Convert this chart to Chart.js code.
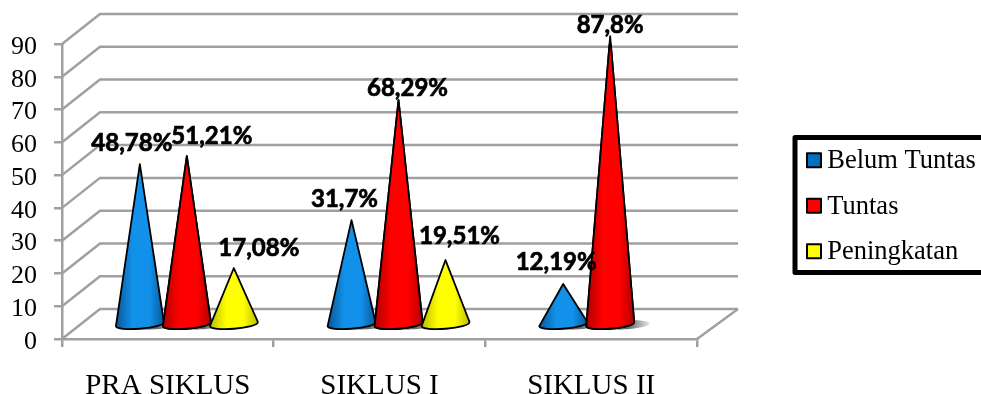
<!DOCTYPE html>
<html>
<head>
<meta charset="utf-8">
<title>Ketuntasan belajar</title>
<script src="https://cdn.jsdelivr.net/npm/chart.js@4"></script>
<style>
  html, body { margin: 0; padding: 0; background: #fff; }
  canvas { display: block; }
</style>
</head>
<body>
<canvas id="chart" width="981" height="394"></canvas>
<script>
const categories = ["PRA SIKLUS", "SIKLUS I", "SIKLUS II"];
const belumTuntas = [48.78, 31.7, 12.19];
const tuntas = [51.21, 68.29, 87.8];
const peningkatan = [17.08, 19.51, null];

const gridColor = "#a0a0a0";
const depthX = 38, depthY = 30;

// edge / middle colours of the cone shading
const coneShades = {
    "#0070c0": ["#0a5799", "#1191ea"],
    "#ff0000": ["#b00000", "#ff0000"],
    "#ffff00": ["#bdbd00", "#ffff00"]
};

// cone drawn where a bar would be, pushed back to the middle of the floor
class ConeElement extends Chart.BarElement {
    draw(ctx) {
        const halfW = this.width / 2 + 0.5;
        const cx = this.x + depthX / 2;
        const apexY = this.y - depthY / 2;
        const baseY = this.base - 13.5;
        const shade = coneShades[this.options.backgroundColor];

        ctx.save();
        const fill = ctx.createLinearGradient(cx - halfW, 0, cx + halfW, 0);
        fill.addColorStop(0, shade[0]);
        fill.addColorStop(0.35, shade[1]);
        fill.addColorStop(0.7, shade[1]);
        fill.addColorStop(1, shade[0]);

        ctx.beginPath();
        ctx.moveTo(cx, apexY);
        ctx.lineTo(cx + halfW, baseY - 2.5);
        ctx.ellipse(cx, baseY, halfW, 4.5, -0.08, 0, Math.PI);
        ctx.closePath();
        ctx.fillStyle = fill;
        ctx.fill();
        ctx.lineJoin = "round";
        ctx.lineWidth = 1.8;
        ctx.strokeStyle = "#000";
        ctx.stroke();
        ctx.restore();
    }
}
ConeElement.id = "cone";
ConeElement.defaults = Chart.BarElement.defaults;

class ConeController extends Chart.BarController {}
ConeController.id = "cone";
ConeController.defaults = Object.assign({}, Chart.BarController.defaults, { dataElementType: "cone" });

Chart.register(ConeController, ConeElement);

// walls and floor behind the cones, plus the floor shadows
const wallGrid = {
    id: "wallGrid",
    beforeDatasetsDraw(chart) {
        const { ctx, scales: { x, y } } = chart;
        ctx.save();
        ctx.strokeStyle = gridColor;
        ctx.lineWidth = 2.5;
        y.ticks.forEach(t => {
            const py = y.getPixelForValue(t.value);
            ctx.beginPath();
            ctx.moveTo(x.left, py);
            ctx.lineTo(x.left + depthX, py - depthY);
            ctx.lineTo(x.right + depthX + 3, py - depthY);
            ctx.stroke();
        });
        const py0 = y.getPixelForValue(0);
        ctx.beginPath();
        ctx.moveTo(x.right, py0);
        ctx.lineTo(x.right + depthX + 3, py0 - depthY);
        ctx.stroke();

        // blue and red only, the yellow cones throw none
        [0, 1].forEach(i => {
            chart.getDatasetMeta(i).data.forEach(bar => {
                const cx = bar.x + depthX / 2;
                const halfW = bar.width / 2;
                const shadow = ctx.createLinearGradient(cx + halfW - 6, 0, cx + halfW + 20, 0);
                shadow.addColorStop(0, "rgba(0,0,0,0.6)");
                shadow.addColorStop(1, "rgba(0,0,0,0)");
                ctx.fillStyle = shadow;
                ctx.beginPath();
                ctx.ellipse(cx + 14, bar.base - 13, halfW + 2, 4.5, -0.05, 0, Math.PI * 2);
                ctx.fill();
            });
        });
        ctx.restore();
    }
};

// shift of each value label from the tip of its cone, per series and category
const labelShift = [
    [[-8, -21], [-7, -21], [-7, -22]],
    [[25, -20], [9, -12], [0, -11]],
    [[25, -20], [14, -24], [0, 0]]
];

const valueLabels = {
    id: "valueLabels",
    afterDatasetsDraw(chart) {
        const { ctx } = chart;
        // the red cones sit in front of both neighbours
        chart.getDatasetMeta(1).controller.draw();
        ctx.save();
        ctx.font = "bold 24px Lato";
        ctx.fillStyle = "#000";
        ctx.strokeStyle = "#000";
        ctx.lineWidth = 0.7;
        ctx.textAlign = "center";
        ctx.textBaseline = "middle";
        chart.data.datasets.forEach((ds, i) => {
            chart.getDatasetMeta(i).data.forEach((bar, j) => {
                if (ds.data[j] === null) return;
                const text = String(ds.data[j]).replace(".", ",") + "%";
                const [sx, sy] = labelShift[i][j];
                const lx = bar.x + depthX / 2 + sx, ly = bar.y - depthY / 2 + sy;
                ctx.fillText(text, lx, ly);
                ctx.strokeText(text, lx, ly);
            });
        });
        ctx.restore();
    }
};

// thick frame and square swatches of the legend
const legendFrame = {
    id: "legendFrame",
    afterLayout(chart) {
        const legend = chart.legend;
        legend.left = 788;
        legend.right = 990;
        legend.top = 129;
        legend.bottom = 340;
        legend.adjustHitBoxes();
        // y tick labels sit a little under their tick marks
        chart.scales.y.getLabelItems().forEach(item => {
            item.options.translation[1] += 3;
        });
    },
    afterDraw(chart) {
        const { ctx } = chart;
        ctx.save();
        ctx.strokeStyle = "#000";
        ctx.lineWidth = 5;
        ctx.lineJoin = "round";
        ctx.strokeRect(795, 137.5, 200, 135);
        ctx.lineWidth = 2;
        chart.legend.legendHitBoxes.forEach((box, i) => {
            const midY = box.top + box.height / 2 - 1;
            ctx.fillStyle = chart.data.datasets[chart.legend.legendItems[i].datasetIndex].backgroundColor;
            ctx.fillRect(807, midY - 7, 14, 14);
            ctx.strokeRect(807, midY - 7, 14, 14);
        });
        ctx.restore();
    }
};

new Chart(document.getElementById("chart"), {
    type: "cone",
    data: {
        labels: categories,
        datasets: [
            { label: "Belum Tuntas", data: belumTuntas, backgroundColor: "#0070c0" },
            { label: "Tuntas", data: tuntas, backgroundColor: "#ff0000" },
            { label: "Peningkatan", data: peningkatan, backgroundColor: "#ffff00" }
        ]
    },
    plugins: [wallGrid, valueLabels, legendFrame],
    options: {
        responsive: false,
        animation: false,
        events: [],
        layout: { autoPadding: false, padding: { left: 0, top: 44, right: 284, bottom: 0 } },
        datasets: { cone: { categoryPercentage: 0.666, barPercentage: 1 } },
        plugins: {
            tooltip: { enabled: false },
            legend: {
                position: "chartArea",
                align: "start",
                labels: {
                    color: "#000",
                    font: { family: "Liberation Serif", size: 26.5 },
                    boxWidth: 7,
                    boxHeight: 14,
                    padding: 19,
                    generateLabels(chart) {
                        return Chart.defaults.plugins.legend.labels.generateLabels(chart).map(item => {
                            item.fillStyle = "rgba(0,0,0,0)";
                            item.strokeStyle = "rgba(0,0,0,0)";
                            item.lineWidth = 0;
                            return item;
                        });
                    }
                }
            }
        },
        scales: {
            x: {
                type: "category",
                offset: true,
                afterFit(scale) { scale.height = 55; },
                grid: { drawOnChartArea: false, color: gridColor, lineWidth: 2.5, tickLength: 8, offset: true },
                border: { color: gridColor, width: 2.5 },
                ticks: { color: "#000", padding: 22, maxRotation: 0, autoSkip: false, font: { family: "Liberation Serif", size: 29 } }
            },
            y: {
                type: "linear",
                min: 0,
                max: 90,
                afterFit(scale) { scale.width = 62; },
                grid: { drawOnChartArea: false, color: gridColor, lineWidth: 2.5, tickLength: 8 },
                border: { color: gridColor, width: 2.5 },
                ticks: { color: "#000", stepSize: 10, padding: 17, autoSkip: false, font: { family: "Liberation Serif", size: 26 } }
            }
        }
    }
});
</script>
</body>
</html>
